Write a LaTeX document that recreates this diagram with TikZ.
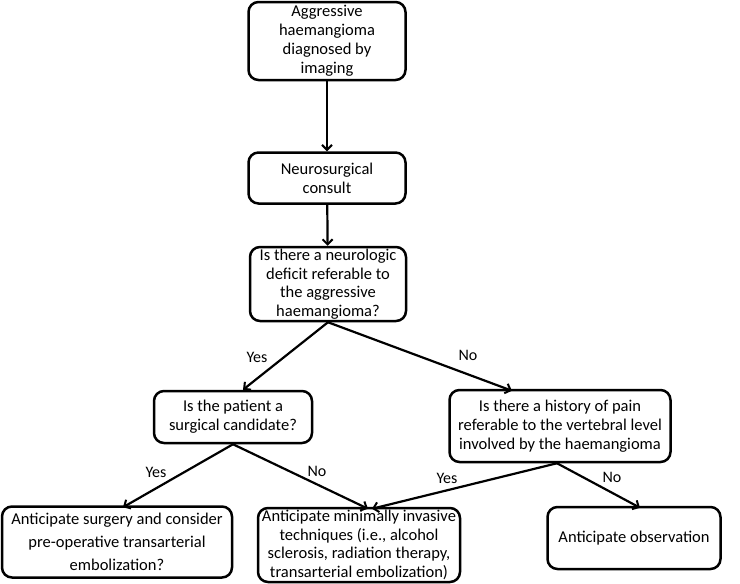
\documentclass[tikz,border=0pt]{standalone}
\usepackage{fontspec}
\setmainfont{Carlito}
\usetikzlibrary{arrows.meta}

\begin{document}
\begin{tikzpicture}[x=1pt,y=-1pt,line cap=round,
        >={Straight Barb[length=5pt,width=10pt,line width=2pt]},
        box/.style={draw,line width=2.5pt,rounded corners=10pt,align=center,
                inner sep=0pt,font=\fontsize{16.5}{19}\selectfont},
        link/.style={->,line width=2.2pt},
        answer/.style={font=\fontsize{16}{19}\selectfont}]
        % fix the margins
        \useasboundingbox (0,0) rectangle (740,584);

        % the boxes
        \node[box,minimum width=157pt,minimum height=78pt] (aggr) at (327,41)
                {Aggressive\\ haemangioma\\ diagnosed by\\ imaging};
        \node[box,minimum width=157pt,minimum height=51pt] (consult) at (327,178)
                {Neurosurgical\\ consult};
        \node[box,minimum width=156pt,minimum height=74pt,
                font=\fontsize{16.5}{18.5}\selectfont] (deficit) at (328,284)
                {Is there a neurologic\\ deficit referable to\\ the aggressive\\ haemangioma?};
        \node[box,minimum width=158pt,minimum height=52pt] (candidate) at (233,417)
                {Is the patient a\\ surgical candidate?};
        \node[box,minimum width=221pt,minimum height=72pt] (pain) at (560,426)
                {Is there a history of pain\\ referable to the vertebral level\\ involved by the haemangioma};
        \node[box,minimum width=230pt,minimum height=71pt,
                font=\fontsize{16.5}{23}\selectfont] (surgery) at (117,542)
                {Anticipate surgery and consider\\ pre-operative transarterial\\ embolization?};
        \node[box,minimum width=202pt,minimum height=74pt,
                font=\fontsize{16.5}{18.5}\selectfont] (minimal) at (359,545)
                {Anticipate minimally invasive\\ techniques (i.e., alcohol\\ sclerosis, radiation therapy,\\ transarterial embolization)};
        \node[box,minimum width=173pt,minimum height=62pt] (observe) at (634,538)
                {Anticipate observation};

        % the connectors
        \draw[link] (aggr) -- (consult);
        \draw[link] (consult) -- (deficit);
        \draw[link] (deficit.south) -- ([xshift=10pt]candidate.north);
        \draw[link] (deficit.south) -- ([xshift=-48pt,yshift=-2pt]pain.north);
        \draw[link] (candidate.south) -- ([xshift=6pt,yshift=-2pt]surgery.north);
        \draw[link] (candidate.south) -- ([xshift=9pt,yshift=-2pt]minimal.north);
        \draw[link] ([xshift=-3pt]pain.south) -- ([xshift=13pt,yshift=-2pt]minimal.north);
        \draw[link] ([xshift=-3pt]pain.south) -- ([xshift=6pt,yshift=-2pt]observe.north);

        % the answers
        \node[answer] (yes1) at (257,357) {Yes};
        \node[answer] (no1) at (468,355) {No};
        \node[answer] (yes2) at (156,472) {Yes};
        \node[answer] (no2) at (317,471) {No};
        \node[answer] (yes3) at (447,478) {Yes};
        \node[answer] (no3) at (612,477) {No};
\end{tikzpicture}
\end{document}
